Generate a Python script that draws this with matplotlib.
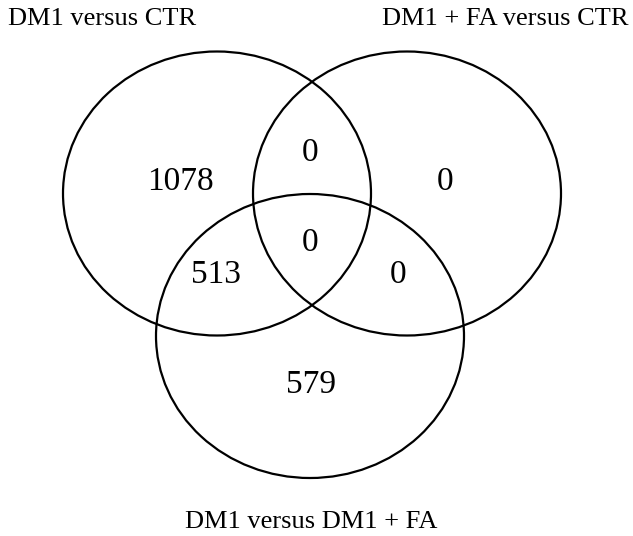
import matplotlib
matplotlib.use("Agg")
import matplotlib.pyplot as plt
from matplotlib.patches import Ellipse

set_labels = ["DM1 versus CTR", "DM1 + FA versus CTR", "DM1 versus DM1 + FA"]
region_names = ["A only", "A&B", "B only", "A&B&C", "A&C", "B&C", "C only"]
region_counts = [1078, 0, 0, 0, 513, 0, 579]

W, H = 633, 536
fig = plt.figure(figsize=(W / 100, H / 100), dpi=100)
ax = fig.add_axes([0, 0, 1, 1])
ax.set_xlim(0, W)
ax.set_ylim(H, 0)
ax.axis("off")

plt.rcParams["font.family"] = ["Liberation Serif", "DejaVu Serif"]

# ellipse geometry (pixels)
centers = [(217, 193.5), (407, 193.5), (310, 336)]
ew, eh = 308, 284
for c in centers:
    ax.add_patch(Ellipse(c, ew, eh, fill=False, edgecolor="black", linewidth=1.6))

label_pos = [(8, 19, "left"), (628, 19, "right"), (311, 522, "center")]
for t, (x, y, ha) in zip(set_labels, label_pos):
    ax.text(x, y, t, ha=ha, va="center", fontsize=19,
            family="Liberation Serif", color="black")

count_pos = [(180, 182), (310, 153), (445, 182), (310, 243), (216, 275), (398, 275), (311, 385)]
for v, p in zip(region_counts, count_pos):
    ax.text(p[0], p[1], str(v), ha="center", va="center", fontsize=24,
            family="Liberation Serif", color="black")

fig.savefig("out.png", dpi=100)
